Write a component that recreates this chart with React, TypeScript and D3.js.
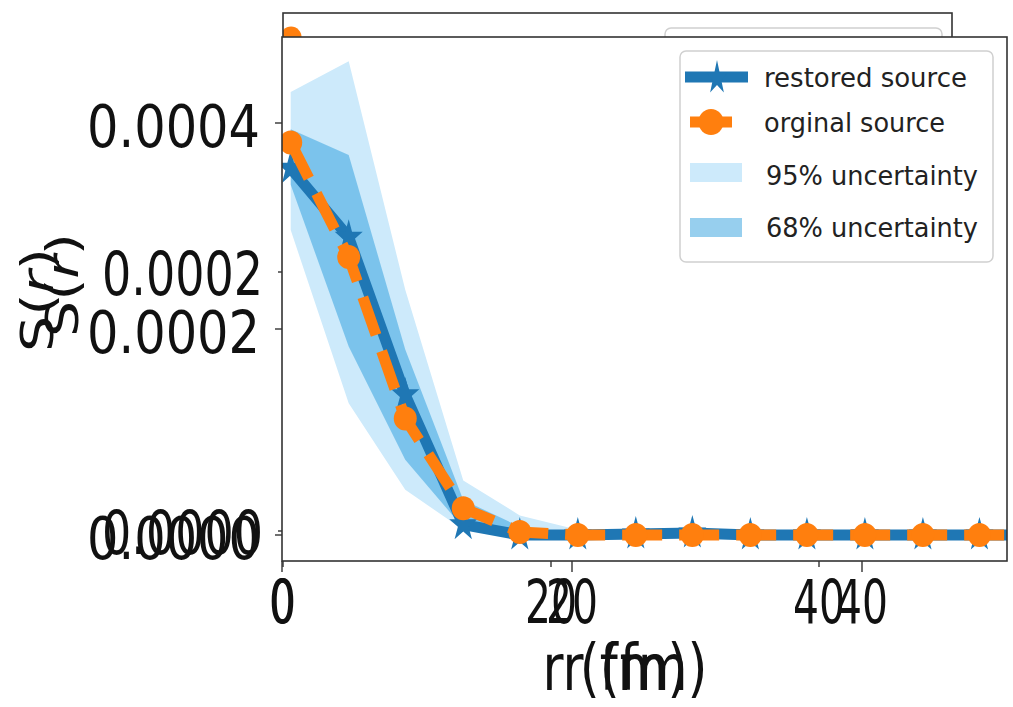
import React from 'react';
import * as d3 from 'd3';

// Radial grid (fm) and source profiles S(r)
const radius = [0.6, 4.6, 8.5, 12.5, 16.4, 20.4, 24.4, 28.3, 32.3, 36.2, 40.2, 44.2, 48.1, 52.1];
const restoredSource = [3.56e-4, 2.89e-4, 1.36e-4, 0.1e-4, 0.0, 0.0, 0.01e-4, 0.02e-4, 0.0, 0.0, 0.0, 0.0, 0.0, 0.0];
const originalSource = [3.81e-4, 2.7e-4, 1.13e-4, 0.26e-4, 0.03e-4, 0.0, 0.0, 0.0, 0.0, 0.0, 0.0, 0.0, 0.0, 0.0];
const lower95 = [2.96e-4, 1.28e-4, 0.44e-4, 0.05e-4, -0.01e-4, -0.01e-4, -0.01e-4, -0.01e-4, -0.01e-4, -0.01e-4, -0.01e-4, -0.01e-4, -0.01e-4, -0.01e-4];
const upper95 = [4.3e-4, 4.6e-4, 2.38e-4, 0.53e-4, 0.19e-4, 0.05e-4, 0.04e-4, 0.06e-4, 0.03e-4, 0.03e-4, 0.03e-4, 0.03e-4, 0.03e-4, 0.03e-4];
const lower68 = [3.4e-4, 1.83e-4, 0.73e-4, 0.07e-4, -0.005e-4, -0.005e-4, -0.005e-4, -0.005e-4, -0.005e-4, -0.005e-4, -0.005e-4, -0.005e-4, -0.005e-4, -0.005e-4];
const upper68 = [3.94e-4, 3.69e-4, 1.8e-4, 0.34e-4, 0.08e-4, 0.02e-4, 0.02e-4, 0.04e-4, 0.015e-4, 0.015e-4, 0.015e-4, 0.015e-4, 0.015e-4, 0.015e-4];

const xTicks = [0, 20, 40];
const yTicks = [0, 0.0002, 0.0004];
const legendLabels = ['restored source', 'orginal source', '95% uncertainty', '68% uncertainty'];

const FONT = '"DejaVu Sans", sans-serif';
const BLUE = '#1f77b4';
const ORANGE = '#ff7f0e';
const BAND95 = '#cdeafb';
const BAND68 = '#1894d9';

type PanelCfg = {
  id: string;
  left: number; right: number; top: number; bottom: number;
  x0: number; x20: number; y0: number; y2: number;
  bands: boolean;
  mark: number;
  yTickLen: number; xTickLen: number;
  yLabelEnd: number; yLabelFont: number; yLabelLen: number; yLabelDy: number;
  xLabelFont: number; xLabelBase: number;
  yTitleX: number; yTitleY: number;
  xTitleX: number;
  legend: { x: number; y: number; w: number; h: number };
  showLegendItems: boolean;
};

const back: PanelCfg = {
  id: 'back', left: 283, right: 952, top: 13, bottom: 557,
  x0: 283, x20: 551, y0: 531, y2: 272, bands: false, mark: 0.92,
  yTickLen: 5, xTickLen: 10,
  yLabelEnd: 263, yLabelFont: 60, yLabelLen: 161, yLabelDy: 23,
  xLabelFont: 60, xLabelBase: 623,
  yTitleX: 78, yTitleY: 285, xTitleX: 615,
  legend: { x: 665, y: 28, w: 277, h: 120 }, showLegendItems: false,
};

const front: PanelCfg = {
  id: 'front', left: 282, right: 1007, top: 37, bottom: 561,
  x0: 282, x20: 572, y0: 535, y2: 329, bands: true, mark: 1,
  yTickLen: 7, xTickLen: 11,
  yLabelEnd: 260, yLabelFont: 59, yLabelLen: 173, yLabelDy: 24,
  xLabelFont: 60, xLabelBase: 623,
  yTitleX: 53, yTitleY: 300, xTitleX: 635,
  legend: { x: 680, y: 51, w: 313, h: 211 }, showLegendItems: true,
};

function starPath(cx: number, cy: number, R: number, sx: number) {
  const r = R * 0.382;
  const pts: string[] = [];
  for (let i = 0; i < 10; i++) {
    const a = -Math.PI / 2 + (i * Math.PI) / 5;
    const rad = i % 2 === 0 ? R : r;
    pts.push(`${cx + Math.cos(a) * rad * sx},${cy + Math.sin(a) * rad}`);
  }
  return `M${pts.join('L')}Z`;
}

function Panel({ c }: { c: PanelCfg }) {
  const x = d3.scaleLinear().domain([0, 20]).range([c.x0, c.x20]);
  const y = d3.scaleLinear().domain([0, 0.0002]).range([c.y0, c.y2]);
  const idx = radius.map((_, i) => i);
  const line = (vals: number[]) =>
    d3.line<number>().x((i) => x(radius[i])).y((i) => y(vals[i]))(idx) || '';
  const area = (lo: number[], hi: number[]) =>
    d3.area<number>().x((i) => x(radius[i])).y0((i) => y(lo[i])).y1((i) => y(hi[i]))(idx) || '';
  const m = c.mark;
  const lg = c.legend;

  return (
    <g>
      <defs>
        <clipPath id={`clip-${c.id}`}>
          <rect x={c.left} y={c.top} width={c.right - c.left} height={c.bottom - c.top} />
        </clipPath>
      </defs>
      <rect x={c.left} y={c.top} width={c.right - c.left} height={c.bottom - c.top} fill="white" />
      <g clipPath={`url(#clip-${c.id})`}>
        {c.bands && <path d={area(lower95, upper95)} fill={BAND95} />}
        {c.bands && <path d={area(lower68, upper68)} fill={BAND68} fillOpacity={0.45} />}
        <path d={line(restoredSource)} fill="none" stroke={BLUE} strokeWidth={11 * m} strokeLinejoin="round" />
        {idx.map((i) => (
          <path key={`s${i}`} d={starPath(x(radius[i]), y(restoredSource[i]), 18 * m, 0.82)} fill={BLUE} />
        ))}
        <path d={line(originalSource)} fill="none" stroke={ORANGE} strokeWidth={11 * m}
          strokeDasharray={`${40 * m} ${17 * m}`} strokeLinejoin="round" />
        {idx.map((i) => (
          <ellipse key={`c${i}`} cx={x(radius[i])} cy={y(originalSource[i])} rx={11.5 * m} ry={12 * m} fill={ORANGE} />
        ))}
      </g>

      {/* legend */}
      <rect x={lg.x} y={lg.y} width={lg.w} height={lg.h} rx={6} fill="white" fillOpacity={0.8}
        stroke="#d0d0d0" strokeWidth={1.5} />
      {c.showLegendItems && (
        <g fontFamily={FONT} fontSize={26} fill="#222">
          <line x1={lg.x + 5} x2={lg.x + 68} y1={lg.y + 26} y2={lg.y + 26} stroke={BLUE} strokeWidth={11} />
          <path d={starPath(lg.x + 37, lg.y + 27, 18, 0.65)} fill={BLUE} />
          <line x1={lg.x + 10} x2={lg.x + 52} y1={lg.y + 71} y2={lg.y + 71} stroke={ORANGE} strokeWidth={11} />
          <ellipse cx={lg.x + 31} cy={lg.y + 71} rx={12.5} ry={13} fill={ORANGE} />
          <rect x={lg.x + 10} y={lg.y + 112} width={52} height={19} fill={BAND95} />
          <rect x={lg.x + 10} y={lg.y + 167} width={52} height={19} fill={BAND68} fillOpacity={0.45} />
          <text x={lg.x + 84} y={lg.y + 36} textLength={203} lengthAdjust="spacingAndGlyphs">{legendLabels[0]}</text>
          <text x={lg.x + 84} y={lg.y + 81} textLength={181} lengthAdjust="spacingAndGlyphs">{legendLabels[1]}</text>
          <text x={lg.x + 86} y={lg.y + 134} textLength={212} lengthAdjust="spacingAndGlyphs">{legendLabels[2]}</text>
          <text x={lg.x + 86} y={lg.y + 186} textLength={212} lengthAdjust="spacingAndGlyphs">{legendLabels[3]}</text>
        </g>
      )}

      {/* frame */}
      <rect x={c.left} y={c.top} width={c.right - c.left} height={c.bottom - c.top} fill="none"
        stroke="#333" strokeWidth={1.6} />

      {/* y ticks inside the view limits */}
      {yTicks.filter((t) => y(t) > c.top + 1 && y(t) < c.bottom - 1).map((t) => (
        <g key={`yt${t}`}>
          <line x1={c.left - c.yTickLen} x2={c.left} y1={y(t)} y2={y(t)} stroke="#333" strokeWidth={1.4} />
          <text x={c.yLabelEnd} y={y(t) + c.yLabelDy} textAnchor="end" fontFamily={FONT} fontSize={c.yLabelFont}
            textLength={c.yLabelLen} lengthAdjust="spacingAndGlyphs" fill="#111">
            {t.toFixed(4)}
          </text>
        </g>
      ))}

      {/* x ticks */}
      {xTicks.map((t) => (
        <g key={`xt${t}`}>
          <line x1={x(t)} x2={x(t)} y1={c.bottom} y2={c.bottom + c.xTickLen} stroke="#333" strokeWidth={1.4} />
          <text x={x(t)} y={c.xLabelBase} textAnchor="middle" fontFamily={FONT} fontSize={c.xLabelFont}
            textLength={String(t).length * 26} lengthAdjust="spacingAndGlyphs" fill="#111">
            {String(t)}
          </text>
        </g>
      ))}

      {/* axis titles */}
      <text x={c.xTitleX} y={690} textAnchor="middle" fontFamily={FONT} fontSize={64}
        textLength={145} lengthAdjust="spacingAndGlyphs" fill="#111">
        r (fm)
      </text>
      <text transform={`translate(${c.yTitleX},${c.yTitleY}) rotate(-90)`} textAnchor="middle" fontFamily={FONT}
        fontSize={45} textLength={104} lengthAdjust="spacingAndGlyphs" fill="#111">
        S(<tspan fontStyle="italic">r</tspan>)
      </text>
    </g>
  );
}

export default function App() {
  return (
    <svg width={1013} height={707} style={{ position: 'absolute', left: 0, top: 0, background: 'white' }}>
      <Panel c={back} />
      <Panel c={front} />
    </svg>
  );
}
